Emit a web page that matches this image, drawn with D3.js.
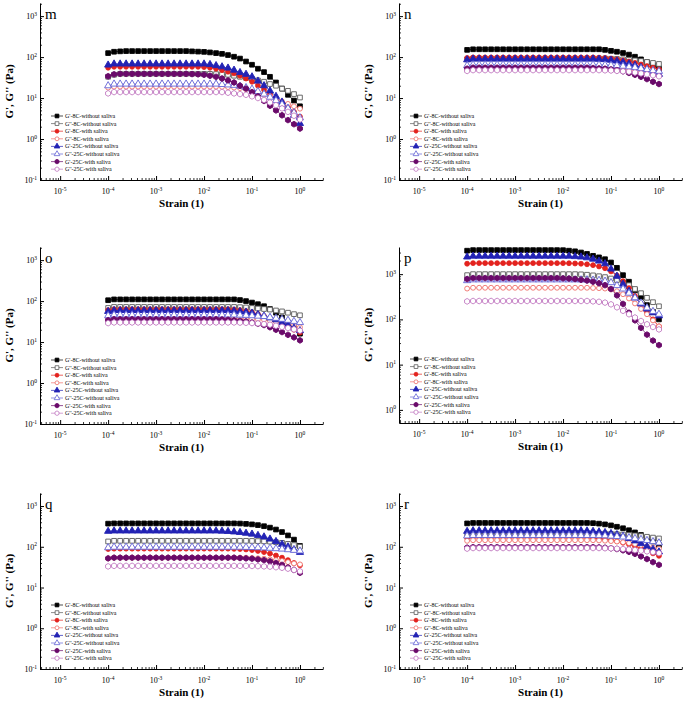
<!DOCTYPE html>
<html lang="en">
<head>
<meta charset="UTF-8" />
<title>Strain sweep, panels m-r</title>
<script src="https://d3js.org/d3.v7.min.js"></script>
<style>
  body {
    margin: 0;
    background: #fff;
  }
  svg {
    display: block;
    font-family: "Liberation Serif", "Times New Roman", serif;
  }
</style>
</head>
<body>
<div id="chart"></div>
<script>
// strain (1), 8 points per decade from 1e-4 to 1
const strain = [1.00e-4, 1.33e-4, 1.78e-4, 2.37e-4, 3.16e-4, 4.22e-4, 5.62e-4, 7.50e-4,
  1.00e-3, 1.33e-3, 1.78e-3, 2.37e-3, 3.16e-3, 4.22e-3, 5.62e-3, 7.50e-3,
  1.00e-2, 1.33e-2, 1.78e-2, 2.37e-2, 3.16e-2, 4.22e-2, 5.62e-2, 7.50e-2,
  0.100, 0.133, 0.178, 0.237, 0.316, 0.422, 0.562, 0.750, 1.00];

const seriesNames = ["G'-8C-without saliva", "G''-8C-without saliva", "G'-8C-with saliva", "G''-8C-with saliva",
  "G'-25C-without saliva", "G''-25C-without saliva", "G'-25C-with saliva", "G''-25C-with saliva"];

const xTickExp = [-5, -4, -3, -2, -1, 0];

// each panel: 8 series in legend order (Pa)
const mData = [
  [125,135,138,140,140,140,140,140,140,140,140,140,140,140,138,136,134,130,125,120,112,102,92,78,65,52,43,33,24,17,12,8.7,6.3],
  [33,37,39,39,39,39,39,39,39,39,39,39,39,39,39,39,39,39,38.5,38,37,35,33,31,29,27,25,22,20,17,15,12.5,10.3],
  [55,58,58,58,58,58,58,58,58,58,58,58,58,58,58,58,57,55,52,48,44,40,35,30,25,20,16,12.5,9.5,7.5,6,4.6,3.5],
  [18,19,19,19,19,19,19,19,19,19,19,19,19,19,19,19,19,19,19,18.8,18.5,18,17.5,16.5,15,13.5,12,10.8,9.5,8.3,7.2,6.3,5.5],
  [64,68,68,68,68,68,68,68,68,68,68,68,68,68,68,68,68,66,62,58,54,48,42,38,33,26,20,15,11,8,5.5,3.8,2.4],
  [20,22,22,22,22,22,22,22,22,22,22,22,22,22,22,22,22,22,22,21.5,21,20.5,19.5,18,16.5,14.5,12.5,10.5,8.7,7,5.6,4.4,3.3],
  [34,38,39,39,39,39,39,39,39,39,39,39,39,39,38.5,38,37,35,33,30,27,24,20,17,14,11,8.5,6.5,5,3.8,2.9,2.3,1.8],
  [13,14,14,14,14,14,14,14,14,14,14,14,14,14,14,14,14,14,14,14,13.5,13,12.5,12,11,10,9,7.8,6.7,5.6,4.6,3.7,3.0]
];

const nData = [
  [150,155,155,155,155,155,155,155,155,155,155,155,155,155,155,155,155,155,155,155,155,155,155,150,142,135,126,115,102,88,75,63,53],
  [88,92,92,92,92,92,92,92,92,92,92,92,92,92,92,92,92,92,92,92,92,92,92,92,91,90,88,86,83,80,76,72,68],
  [95,98,98,98,98,98,98,98,98,98,98,98,98,98,98,98,98,98,98,98,98,98,97,95,92,88,83,78,72,66,60,55,50],
  [56,58,58,58,58,58,58,58,58,58,58,58,58,58,58,58,58,58,58,58,58,58,58,57,56,54,52,50,47,44,41,39,37],
  [86,90,90,90,90,90,90,90,90,90,90,90,90,90,90,90,90,90,90,90,90,90,89,87,84,80,75,69,63,56,49,43,38],
  [62,65,65,65,65,65,65,65,65,65,65,65,65,65,65,65,65,65,65,65,65,65,65,64,63,62,60,58,56,53,50,47,45],
  [52,55,55,55,55,55,55,55,55,55,55,55,55,55,55,55,55,55,55,55,55,54,53,52,50,48,45,41,37,33,29,25,22],
  [46,48,48,48,48,48,48,48,48,48,48,48,48,48,48,48,48,48,48,48,48,48,48,47.5,47,46,45,44,42,40,38,36,34]
];

const oData = [
  [105,110,110,110,110,110,110,110,110,110,110,110,110,110,110,110,110,110,110,110,110,110,106,100,92,84,75,64,52,40,30,22,16],
  [68,72,72,72,72,72,72,72,72,72,72,72,72,72,72,72,72,72,72,72,72,72,71,70,68,66,64,62,59,56,52,48,45],
  [60,63,63,63,63,63,63,63,63,63,63,63,63,63,63,63,63,63,63,63,63,62,60,57,53,48,43,38,33,28,24,20,17],
  [37,39,39,39,39,39,39,39,39,39,39,39,39,39,39,39,39,39,39,39,39,39,38.5,38,37,36,35,33,31,29,27,25,23],
  [56,59,59,59,59,59,59,59,59,59,59,59,59,59,59,59,59,59,59,59,59,58,56,54,51,47,43,39,35,30,26,22,19],
  [44,46,46,46,46,46,46,46,46,46,46,46,46,46,46,46,46,46,46,46,46,46,45.5,45,44,43,42,40,38,36,34,32,30],
  [34,36,36,36,36,36,36,36,36,36,36,36,36,36,36,36,36,36,36,35.5,35,34,33,32,30,28,26,23,20,17.5,15,13,11],
  [29,30,30,30,30,30,30,30,30,30,30,30,30,30,30,30,30,30,30,30,30,30,29.8,29.5,29,28.5,27.5,26.5,25,23.5,22,20.5,19]
];

const pData = [
  [3300,3400,3400,3400,3400,3400,3400,3400,3400,3400,3400,3400,3400,3400,3400,3400,3390,3300,3200,3010,2800,2540,2350,2140,1810,1380,950,680,445,315,207,147,100],
  [950,1000,1000,1000,1000,1000,1000,1000,1000,1000,1000,1000,1000,1000,1000,1000,1000,1000,1000,990,970,940,900,860,800,740,660,570,470,380,300,240,195],
  [1700,1750,1750,1750,1750,1750,1750,1750,1750,1750,1750,1750,1750,1750,1750,1750,1750,1740,1720,1700,1650,1580,1480,1350,1150,930,700,490,330,220,145,100,70],
  [480,500,500,500,500,500,500,500,500,500,500,500,500,500,500,500,500,500,500,500,500,495,490,480,460,420,360,290,225,170,130,95,70],
  [2400,2500,2500,2500,2500,2500,2500,2500,2500,2500,2500,2500,2500,2500,2500,2500,2500,2500,2450,2400,2300,2150,1950,1700,1300,900,600,420,300,220,170,140,120],
  [720,750,750,750,750,750,750,750,750,750,750,750,750,750,750,750,750,750,750,750,750,740,730,700,650,560,470,380,300,230,180,150,130],
  [780,820,820,820,820,820,820,820,820,820,820,820,820,820,820,820,810,800,780,750,720,680,630,570,470,340,220,140,95,65,46,34,27],
  [250,255,255,255,255,255,255,255,255,255,255,255,255,255,255,255,255,255,255,255,255,250,245,235,215,185,155,130,110,92,78,68,60]
];

const qData = [
  [370,375,375,375,375,375,375,375,375,375,375,375,375,375,375,375,375,375,375,375,375,375,372,365,355,340,320,295,265,230,190,150,105],
  [135,140,140,140,140,140,140,140,140,140,140,140,140,140,140,140,140,140,140,140,140,140,140,140,139,138,136,134,130,125,118,110,100],
  [88,90,90,90,90,90,90,90,90,90,90,90,90,90,90,90,90,90,90,90,90,89,88,86,83,79,74,68,61,54,47,40,35],
  [52,54,54,54,54,54,54,54,54,54,54,54,54,54,54,54,54,54,54,54,54,54,54,54,53,52,51,49,47,45,42,39,37],
  [240,245,245,245,245,245,245,245,245,245,245,245,245,245,245,245,245,245,245,242,238,232,225,215,205,190,175,155,135,115,100,85,73],
  [95,98,98,98,98,98,98,98,98,98,98,98,98,98,98,98,98,98,98,98,98,98,98,97,96,95,94,92,90,88,85,82,79],
  [52,54,54,54,54,54,54,54,54,54,54,54,54,54,54,54,54,54,54,54,54,54,53,52,51,49,47,44,40,36,31,27,23],
  [33,34,34,34,34,34,34,34,34,34,34,34,34,34,34,34,34,34,34,34,34,34,34,34,33.8,33.5,33,32.5,31.5,30.5,29,27,25]
];

const rData = [
  [375,385,385,385,385,385,385,385,385,385,385,385,385,385,385,385,385,385,385,385,385,380,370,355,335,310,285,255,225,195,165,135,110],
  [205,210,210,210,210,210,210,210,210,210,210,210,210,210,210,210,210,210,210,210,210,210,210,209,207,204,200,195,190,183,176,168,160],
  [165,170,170,170,170,170,170,170,170,170,170,170,170,170,170,170,170,170,170,170,168,165,160,154,146,137,126,115,103,91,80,69,60],
  [140,145,145,145,145,145,145,145,145,145,145,145,145,145,145,145,145,145,145,145,145,145,143,141,138,134,129,123,117,110,103,96,90],
  [240,248,248,248,248,248,248,248,248,248,248,248,248,248,248,248,248,248,248,248,245,240,233,224,212,198,180,160,140,120,102,87,75],
  [185,190,190,190,190,190,190,190,190,190,190,190,190,190,190,190,190,190,190,190,190,190,188,186,183,179,174,168,160,152,143,134,125],
  [95,98,98,98,98,98,98,98,98,98,98,98,98,98,98,98,98,98,98,98,98,98,97,95,92,88,82,75,67,58,50,42,36],
  [90,93,93,93,93,93,93,93,93,93,93,93,93,93,93,93,93,93,93,93,93,93,93,92,91,90,88,86,83,80,77,74,70]
];

const width = 685;
const height = 703;

const svg = d3.select("#chart")
  .append("svg")
  .attr("width", width)
  .attr("height", height);

const colors = ["#000000", "#5a5a5a", "#e3231e", "#ef6f6a", "#2222b4", "#6262d6", "#6a0a6a", "#c27ac2"];
const shapes = ["square", "square", "circle", "circle", "triangle", "triangle", "hexagon", "hexagon"];
const filled = [true, false, true, false, true, false, true, false];

const hexagon = {
  draw(ctx, size) {
    const r = Math.sqrt(size / 2.598);
    for (let k = 0; k < 6; k++) {
      const a = Math.PI / 3 * k - Math.PI / 2;
      if (k === 0) ctx.moveTo(r * Math.cos(a), r * Math.sin(a));
      else ctx.lineTo(r * Math.cos(a), r * Math.sin(a));
    }
    ctx.closePath();
  }
};

function symbolPath(shape, size) {
  const types = {
    square: d3.symbolSquare,
    circle: d3.symbolCircle,
    triangle: d3.symbolTriangle,
    hexagon: hexagon
  };
  const s = shape === "circle" ? size * 0.85 : size;
  return d3.symbol().type(types[shape]).size(s)();
}

const panels = [
  { label: "m", data: mData, left: 40, right: 323, top: 3, bottom: 180, yMin: -1, yMax: 3.32 },
  { label: "n", data: nData, left: 399, right: 682, top: 3, bottom: 180, yMin: -1, yMax: 3.32 },
  { label: "o", data: oData, left: 40, right: 323, top: 247, bottom: 424, yMin: -1, yMax: 3.32 },
  { label: "p", data: pData, left: 399, right: 682, top: 247, bottom: 423, yMin: -0.29, yMax: 3.6 },
  { label: "q", data: qData, left: 40, right: 323, top: 493, bottom: 669, yMin: -1, yMax: 3.32 },
  { label: "r", data: rData, left: 399, right: 682, top: 493, bottom: 669, yMin: -1, yMax: 3.32 }
];

function minorValues(lo, hi) {
  const out = [];
  for (let e = Math.floor(lo) - 1; e <= Math.ceil(hi); e++) {
    for (let k = 2; k <= 9; k++) {
      const v = k * Math.pow(10, e);
      if (Math.log10(v) > lo && Math.log10(v) < hi) out.push(v);
    }
  }
  return out;
}

function powLabel(sel, exp, anchor) {
  sel.attr("text-anchor", anchor);
  sel.append("tspan").text("10");
  sel.append("tspan")
    .attr("dy", -3.5)
    .attr("font-size", 5.5)
    .text(exp);
}

panels.forEach(p => {
  const g = svg.append("g");

  const x = d3.scaleLog()
    .domain([Math.pow(10, -5.42), Math.pow(10, 0.48)])
    .range([p.left, p.right]);

  const y = d3.scaleLog()
    .domain([Math.pow(10, p.yMin), Math.pow(10, p.yMax)])
    .range([p.bottom, p.top]);

  // axes: ticks point inward, no box
  const xMajor = xTickExp.map(e => Math.pow(10, e));
  g.append("g")
    .attr("transform", `translate(0,${p.bottom})`)
    .call(d3.axisBottom(x).tickValues(xMajor).tickSize(-4).tickSizeOuter(0).tickFormat(""))
    .call(a => a.selectAll("line,path").attr("stroke", "#000").attr("stroke-width", 1));
  g.append("g")
    .attr("transform", `translate(0,${p.bottom})`)
    .call(d3.axisBottom(x).tickValues(minorValues(-5.42, 0.48)).tickSize(-2).tickFormat(""))
    .call(a => a.select(".domain").remove())
    .call(a => a.selectAll("line").attr("stroke", "#000").attr("stroke-width", 0.8));

  const yExp = d3.range(Math.ceil(p.yMin), Math.floor(p.yMax) + 1);
  g.append("g")
    .attr("transform", `translate(${p.left},0)`)
    .call(d3.axisLeft(y).tickValues(yExp.map(e => Math.pow(10, e))).tickSize(-4).tickSizeOuter(0).tickFormat(""))
    .call(a => a.selectAll("line,path").attr("stroke", "#000").attr("stroke-width", 1));
  g.append("g")
    .attr("transform", `translate(${p.left},0)`)
    .call(d3.axisLeft(y).tickValues(minorValues(p.yMin, p.yMax)).tickSize(-2).tickFormat(""))
    .call(a => a.select(".domain").remove())
    .call(a => a.selectAll("line").attr("stroke", "#000").attr("stroke-width", 0.8));

  // tick labels with superscripts
  xTickExp.forEach(e => {
    g.append("text")
      .attr("x", x(Math.pow(10, e)))
      .attr("y", p.bottom + 14)
      .attr("font-size", 8)
      .call(t => powLabel(t, e, "middle"));
  });
  yExp.forEach(e => {
    g.append("text")
      .attr("x", p.left - 3)
      .attr("y", y(Math.pow(10, e)) + 3)
      .attr("font-size", 8)
      .call(t => powLabel(t, e, "end"));
  });

  g.append("text")
    .attr("x", (p.left + p.right) / 2)
    .attr("y", p.bottom + 27)
    .attr("text-anchor", "middle")
    .attr("font-size", 11)
    .attr("font-weight", "bold")
    .text("Strain (1)");

  g.append("text")
    .attr("transform", `translate(${p.left - 27},${(p.top + p.bottom) / 2}) rotate(-90)`)
    .attr("text-anchor", "middle")
    .attr("font-size", 11)
    .attr("font-weight", "bold")
    .text("G', G'' (Pa)");

  g.append("text")
    .attr("x", p.left + 5)
    .attr("y", p.top + 16)
    .attr("font-size", 15)
    .text(p.label);

  // series
  const line = d3.line()
    .x((d, i) => x(strain[i]))
    .y(d => y(d));

  p.data.forEach((vals, s) => {
    g.append("path")
      .attr("d", line(vals))
      .attr("fill", "none")
      .attr("stroke", colors[s])
      .attr("stroke-width", 0.7);

    g.selectAll(null)
      .data(vals)
      .enter()
      .append("path")
      .attr("transform", (d, i) => `translate(${x(strain[i])},${y(d)})`)
      .attr("d", symbolPath(shapes[s], 22))
      .attr("fill", filled[s] ? colors[s] : "#fff")
      .attr("stroke", colors[s])
      .attr("stroke-width", 0.9);
  });

  // legend
  const lg = g.append("g");
  seriesNames.forEach((name, s) => {
    const ly = p.bottom - 64 + s * 7.6;
    lg.append("line")
      .attr("x1", p.left + 11)
      .attr("x2", p.left + 23)
      .attr("y1", ly)
      .attr("y2", ly)
      .attr("stroke", colors[s])
      .attr("stroke-width", 0.7);
    lg.append("path")
      .attr("transform", `translate(${p.left + 17},${ly})`)
      .attr("d", symbolPath(shapes[s], 14))
      .attr("fill", filled[s] ? colors[s] : "#fff")
      .attr("stroke", colors[s])
      .attr("stroke-width", 0.8);
    lg.append("text")
      .attr("x", p.left + 25)
      .attr("y", ly + 2)
      .attr("font-size", 6)
      .text(name);
  });
});
</script>
</body>
</html>
